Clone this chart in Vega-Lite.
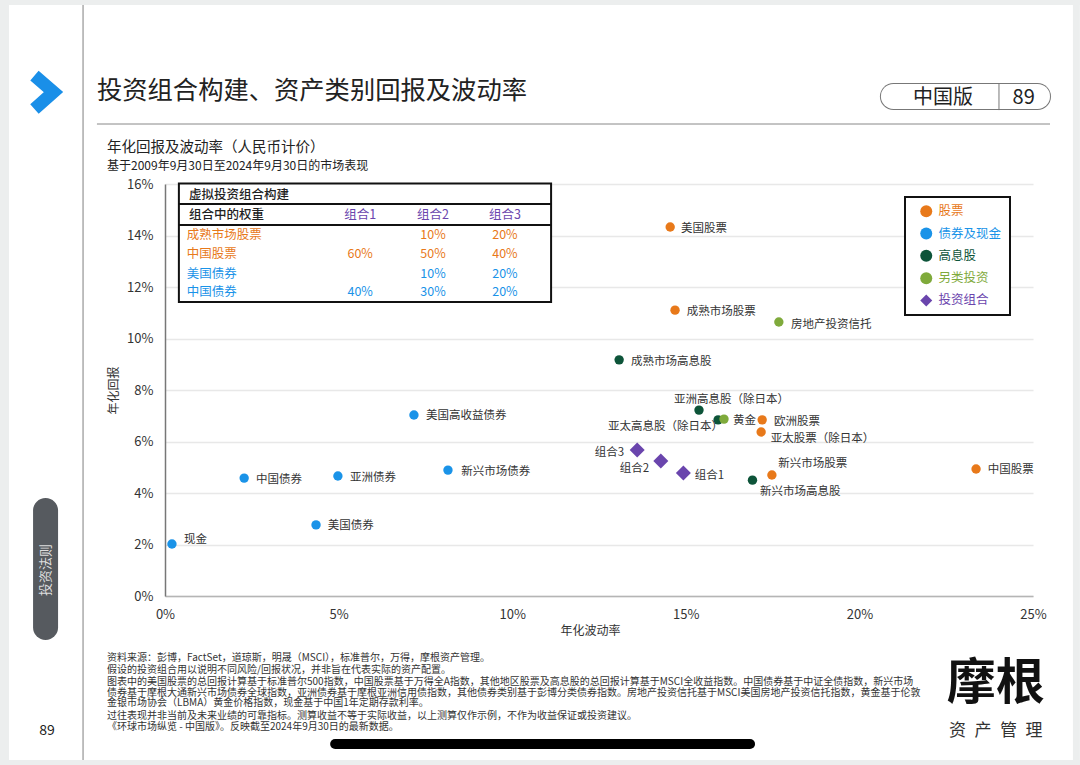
{
"$schema":"https://vega.github.io/schema/vega-lite/v6.json",
"width":868,"height":412,
"autosize":{"type":"none"},
"padding":{"left":165,"top":184,"right":47,"bottom":169},
"background":"#ffffff",
"config":{"font":"Noto Sans CJK SC","view":{"stroke":null},"legend":{"strokeWidth":2}},
"encoding":{
"x":{"field":"x","type":"quantitative","scale":{"domain":[0,25],"nice":false,"zero":false},
"axis":{"values":[0,5,10,15,20,25],"labelExpr":"datum.value+'%'","labelFlush":false,"grid":false,"ticks":false,"domainColor":"#b5b5b5","domainWidth":1.5,"labelFontSize":13,"labelColor":"#333333","labelPadding":12,"title":"年化波动率","titleFontSize":12,"titleFontWeight":"normal","titleColor":"#333333","titleX":425,"titleY":29}},
"y":{"field":"y","type":"quantitative","scale":{"domain":[0,16],"nice":false,"zero":false},
"axis":{"values":[0,2,4,6,8,10,12,14,16],"labelExpr":"datum.value+'%'","labelFlush":false,"grid":true,"gridColor":"#e8e8e8","gridWidth":1.5,"ticks":false,"domainColor":"#777777","domainWidth":1.5,"labelFontSize":13,"labelColor":"#333333","labelPadding":12,"title":"年化回报","titleFontSize":12,"titleFontWeight":"normal","titleColor":"#333333","titleX":-45,"titleY":206}}
},
"layer":[
{"data":{"values":[
{"x":-4.752,"x2":-4.493,"y":23.146,"y2":-6.563},
{"x":26.15,"x2":26.35,"y":23.146,"y2":-6.563},
{"x":-4.752,"x2":26.35,"y":23.146,"y2":22.95},
{"x":-4.752,"x2":26.35,"y":-6.37,"y2":-6.563}
]},"mark":{"type":"rect","fill":"#eceeee"},"encoding":{"x2":{"field":"x2"},"y2":{"field":"y2"}}},
{"data":{"values":[{"x":-2.36,"y":22.95,"y2":-6.37}]},"mark":{"type":"rule","color":"#aaaaaa","strokeWidth":1.5},"encoding":{"y2":{"field":"y2"}}},
{"data":{"values":[{"x":-1.96,"x2":25.49,"y":18.33}]},"mark":{"type":"rule","color":"#888888","strokeWidth":1},"encoding":{"x2":{"field":"x2"}}},
{"data":{"values":[{"i":1,"x":-3.76,"y":20.21},{"i":2,"x":-3.21,"y":19.57},{"i":3,"x":-3.76,"y":18.91}]},"mark":{"type":"line","color":"#1a8fe8","strokeWidth":12.7,"strokeJoin":"miter","strokeCap":"butt"},"encoding":{"order":{"field":"i"}}},
{"data":{"values":[{"x":-3.44,"y":3.32,"y2":-1.22}]},"mark":{"type":"rule","color":"#565a5f","strokeWidth":25,"strokeCap":"round"},"encoding":{"y2":{"field":"y2"}}},
{"data":{"values":[{"x":-3.42,"y":1.01,"t":"投资法则"}]},"mark":{"type":"text","angle":270,"fontSize":13,"color":"#dddddd","baseline":"middle","align":"center"},"encoding":{"text":{"field":"t"}}},
{"data":{"values":[{"x":-3.40,"y":-5.24,"t":"89"}]},"mark":{"type":"text","fontSize":14,"color":"#222222","baseline":"middle","align":"center"},"encoding":{"text":{"field":"t"}}},
{"data":{"values":[{"x":20.98,"x2":25.13,"y":19.40}]},"mark":{"type":"rule","color":"#777777","strokeWidth":27,"strokeCap":"round"},"encoding":{"x2":{"field":"x2"}}},
{"data":{"values":[{"x":20.98,"x2":25.13,"y":19.40}]},"mark":{"type":"rule","color":"#ffffff","strokeWidth":25,"strokeCap":"round"},"encoding":{"x2":{"field":"x2"}}},
{"data":{"values":[{"x":24.02,"y":19.92,"y2":18.87}]},"mark":{"type":"rule","color":"#777777","strokeWidth":1},"encoding":{"y2":{"field":"y2"}}},
{"data":{"values":[{"x":22.41,"y":19.33,"t":"中国版"},{"x":24.73,"y":19.33,"t":"89"}]},"mark":{"type":"text","fontSize":20,"color":"#222222","baseline":"middle","align":"center"},"encoding":{"text":{"field":"t"}}},
{"data":{"values":[{"x":4.90,"x2":16.85,"y":-5.75}]},"mark":{"type":"rule","color":"#000000","strokeWidth":10,"strokeCap":"round"},"encoding":{"x2":{"field":"x2"}}},
{"data":{"values":[{"x":23.93,"y":-3.41,"t":"摩根"}]},"mark":{"type":"text","fontSize":49,"fontWeight":"bold","color":"#111111","baseline":"middle","align":"center"},"encoding":{"text":{"field":"t"}}},
{"data":{"values":[{"x":23.93,"y":-5.26,"t":"资\u2002产\u2002管\u2002理"}]},"mark":{"type":"text","fontSize":17,"color":"#333333","baseline":"middle","align":"center"},"encoding":{"text":{"field":"t"}}},
{"data":{"values":[{"x":-1.96,"y":19.62,"t":"投资组合构建、资产类别回报及波动率"}]},"mark":{"type":"text","fontSize":25.3,"color":"#222222","baseline":"middle","align":"left"},"encoding":{"text":{"field":"t"}}},
{"data":{"values":[{"x":-1.67,"y":17.40,"t":"年化回报及波动率\uFF08人民币计价\uFF09"}]},"mark":{"type":"text","fontSize":14.5,"color":"#222222","baseline":"middle","align":"left"},"encoding":{"text":{"field":"t"}}},
{"data":{"values":[{"x":-1.67,"y":16.68,"t":"基于2009年9月30日至2024年9月30日的市场表现"}]},"mark":{"type":"text","fontSize":12,"color":"#222222","baseline":"middle","align":"left"},"encoding":{"text":{"field":"t"}}},
{"data":{"values":[
{"x":-1.67,"y":-2.39,"t":"资料来源\uFF1A彭博\uFF0CFactSet\uFF0C道琼斯\uFF0C明晟\uFF08MSCI\uFF09\uFF0C标准普尔\uFF0C万得\uFF0C摩根资产管理。"},
{"x":-1.67,"y":-2.87,"t":"假设的投资组合用以说明不同风险/回报状况\uFF0C并非旨在代表实际的资产配置。"},
{"x":-1.67,"y":-3.33,"t":"图表中的美国股票的总回报计算基于标准普尔500指数\uFF0C中国股票基于万得全A指数\uFF0C其他地区股票及高息股的总回报计算基于MSCI全收益指数。中国债券基于中证全债指数\uFF0C新兴市场"},
{"x":-1.67,"y":-3.76,"t":"债券基于摩根大通新兴市场债券全球指数\uFF0C亚洲债券基于摩根亚洲信用债指数\uFF0C其他债券类别基于彭博分类债券指数。房地产投资信托基于MSCI美国房地产投资信托指数\uFF0C黄金基于伦敦"},
{"x":-1.67,"y":-4.17,"t":"金银市场协会\uFF08LBMA\uFF09黄金价格指数\uFF0C现金基于中国1年定期存款利率。"},
{"x":-1.67,"y":-4.65,"t":"过往表现并非当前及未来业绩的可靠指标。测算收益不等于实际收益\uFF0C以上测算仅作示例\uFF0C不作为收益保证或投资建议。"},
{"x":-1.67,"y":-5.10,"t":"《环球市场纵览 - 中国版》。反映截至2024年9月30日的最新数据。"}
]},"mark":{"type":"text","fontSize":10,"color":"#333333","baseline":"middle","align":"left"},"encoding":{"text":{"field":"t"}}},
{"data":{"values":[{"x":0.40,"x2":11.12,"y":16.02,"y2":11.42}]},"mark":{"type":"rect","fill":"#ffffff","stroke":"#111111","strokeWidth":2},"encoding":{"x2":{"field":"x2"},"y2":{"field":"y2"}}},
{"data":{"values":[{"x":0.40,"x2":11.12,"y":15.22},{"x":0.40,"x2":11.12,"y":14.41}]},"mark":{"type":"rule","color":"#111111","strokeWidth":2},"encoding":{"x2":{"field":"x2"}}},
{"data":{"values":[{"x":0.69,"y":15.57,"t":"虚拟投资组合构建"},{"x":0.69,"y":14.80,"t":"组合中的权重"}]},"mark":{"type":"text","fontSize":12.5,"fontWeight":500,"color":"#222222","baseline":"middle","align":"left"},"encoding":{"text":{"field":"t"}}},
{"data":{"values":[
{"x":0.63,"y":14.02,"t":"成熟市场股票","group":"股票"},
{"x":0.63,"y":13.28,"t":"中国股票","group":"股票"},
{"x":0.63,"y":12.50,"t":"美国债券","group":"债券及现金"},
{"x":0.63,"y":11.81,"t":"中国债券","group":"债券及现金"}
]},"mark":{"type":"text","fontSize":12.5,"baseline":"middle","align":"left"},"encoding":{"text":{"field":"t"},"color":{"field":"group","type":"nominal"}}},
{"data":{"values":[
{"x":5.62,"y":14.80,"t":"组合1","group":"投资组合"},{"x":7.72,"y":14.80,"t":"组合2","group":"投资组合"},{"x":9.79,"y":14.80,"t":"组合3","group":"投资组合"},
{"x":7.72,"y":14.02,"t":"10%","group":"股票"},{"x":9.79,"y":14.02,"t":"20%","group":"股票"},
{"x":5.62,"y":13.28,"t":"60%","group":"股票"},{"x":7.72,"y":13.28,"t":"50%","group":"股票"},{"x":9.79,"y":13.28,"t":"40%","group":"股票"},
{"x":7.72,"y":12.50,"t":"10%","group":"债券及现金"},{"x":9.79,"y":12.50,"t":"20%","group":"债券及现金"},
{"x":5.62,"y":11.81,"t":"40%","group":"债券及现金"},{"x":7.72,"y":11.81,"t":"30%","group":"债券及现金"},{"x":9.79,"y":11.81,"t":"20%","group":"债券及现金"}
]},"mark":{"type":"text","fontSize":12.5,"baseline":"middle","align":"center"},"encoding":{"text":{"field":"t"},"color":{"field":"group","type":"nominal"}}},
{"data":{"name":"pts","values":[
{"name":"美国股票","group":"股票","x":14.55,"y":14.33,"lx":14.86,"ly":14.29},
{"name":"成熟市场股票","group":"股票","x":14.69,"y":11.10,"lx":15.03,"ly":11.07},
{"name":"房地产投资信托","group":"另类投资","x":17.68,"y":10.64,"lx":18.03,"ly":10.56},
{"name":"成熟市场高息股","group":"高息股","x":13.08,"y":9.17,"lx":13.42,"ly":9.13},
{"name":"亚洲高息股\uFF08除日本\uFF09","group":"高息股","x":15.38,"y":7.22,"lx":14.66,"ly":7.65},
{"name":"亚太高息股\uFF08除日本\uFF09","group":"高息股","x":15.93,"y":6.84,"lx":12.76,"ly":6.60},
{"name":"黄金","group":"另类投资","x":16.10,"y":6.87,"lx":16.36,"ly":6.83},
{"name":"欧洲股票","group":"股票","x":17.20,"y":6.84,"lx":17.54,"ly":6.80},
{"name":"亚太股票\uFF08除日本\uFF09","group":"股票","x":17.17,"y":6.37,"lx":17.45,"ly":6.14},
{"name":"组合3","group":"投资组合","x":13.60,"y":5.67,"lx":12.38,"ly":5.59},
{"name":"组合2","group":"投资组合","x":14.28,"y":5.24,"lx":13.10,"ly":4.97},
{"name":"组合1","group":"投资组合","x":14.93,"y":4.78,"lx":15.26,"ly":4.70},
{"name":"新兴市场股票","group":"股票","x":17.48,"y":4.70,"lx":17.66,"ly":5.17},
{"name":"新兴市场高息股","group":"高息股","x":16.92,"y":4.50,"lx":17.14,"ly":4.08},
{"name":"中国股票","group":"股票","x":23.36,"y":4.93,"lx":23.70,"ly":4.93},
{"name":"美国高收益债券","group":"债券及现金","x":7.17,"y":7.03,"lx":7.52,"ly":7.03},
{"name":"新兴市场债券","group":"债券及现金","x":8.15,"y":4.89,"lx":8.53,"ly":4.85},
{"name":"亚洲债券","group":"债券及现金","x":4.98,"y":4.66,"lx":5.33,"ly":4.62},
{"name":"中国债券","group":"债券及现金","x":2.28,"y":4.58,"lx":2.62,"ly":4.54},
{"name":"美国债券","group":"债券及现金","x":4.35,"y":2.76,"lx":4.69,"ly":2.76},
{"name":"现金","group":"债券及现金","x":0.20,"y":2.02,"lx":0.55,"ly":2.21}
]},
"layer":[
{"mark":{"type":"point","filled":true,"opacity":1},
"encoding":{
"color":{"field":"group","type":"nominal",
"scale":{"domain":["股票","债券及现金","高息股","另类投资","投资组合"],"range":["#e8791a","#1a93e8","#0d5439","#7faa3b","#6a45ad"]},
"legend":{"title":null,"orient":"none","legendX":740,"legendY":13,"padding":8,"strokeColor":"#111111","fillColor":"#ffffff","labelFontSize":12.5,"symbolSize":144,"symbolOffset":7,"labelOffset":6,"rowPadding":9.3,"symbolStrokeWidth":0,
"encoding":{"labels":{"fill":{"value":{"expr":"scale('color',datum.value)"}}}}}},
"shape":{"field":"group","type":"nominal","scale":{"domain":["股票","债券及现金","高息股","另类投资","投资组合"],"range":["circle","circle","circle","circle","diamond"]},"legend":{"title":null}},
"size":{"condition":{"test":"datum.group==='投资组合'","value":225},"value":88}
}},
{"mark":{"type":"text","fontSize":11.5,"color":"#333333","baseline":"middle","align":"left","dy":1},
"encoding":{
"x":{"field":"lx","type":"quantitative","scale":{"domain":[0,25],"nice":false,"zero":false},"axis":{"values":[0,5,10,15,20,25],"labelExpr":"datum.value+'%'","labelFlush":false,"grid":false,"ticks":false,"domainColor":"#b5b5b5","domainWidth":1.5,"labelFontSize":13,"labelColor":"#333333","labelPadding":12,"title":"年化波动率","titleFontSize":12,"titleFontWeight":"normal","titleColor":"#333333","titleX":425,"titleY":29}},
"y":{"field":"ly","type":"quantitative","scale":{"domain":[0,16],"nice":false,"zero":false},"axis":{"values":[0,2,4,6,8,10,12,14,16],"labelExpr":"datum.value+'%'","labelFlush":false,"grid":true,"gridColor":"#e8e8e8","gridWidth":1.5,"ticks":false,"domainColor":"#777777","domainWidth":1.5,"labelFontSize":13,"labelColor":"#333333","labelPadding":12,"title":"年化回报","titleFontSize":12,"titleFontWeight":"normal","titleColor":"#333333","titleX":-45,"titleY":206}},
"text":{"field":"name"}
}}
]}
]
}
